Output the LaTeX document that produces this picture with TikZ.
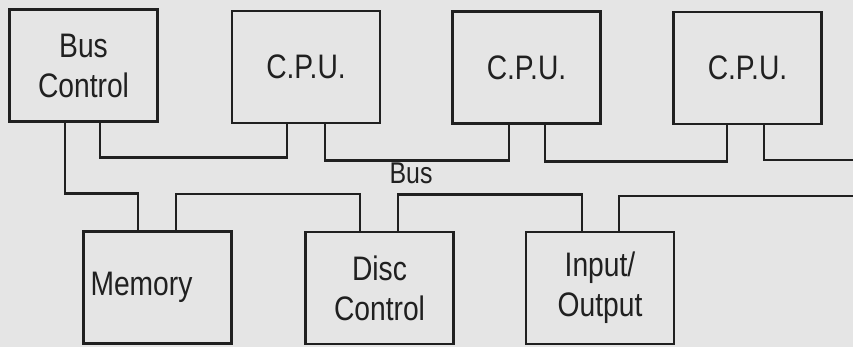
\documentclass[tikz,border=0pt]{standalone}
\usepackage{fontspec}
\setmainfont{Liberation Sans}[FakeStretch=0.83]
\begin{document}
\begin{tikzpicture}[x=1pt, y=-1pt]
% Shared bus block diagram
\definecolor{paperGray}{RGB}{229,229,229}
\definecolor{inkGray}{RGB}{32,32,32}
\providecommand{\busLineWidth}{2.6pt}
\tikzset{
  unitbox/.style={draw=inkGray, line width=\busLineWidth, minimum width=148pt, minimum height=112pt,
    inner sep=0pt, align=center, text=inkGray, font=\fontsize{34}{40}\selectfont},
  busline/.style={draw=inkGray, line width=\busLineWidth, line join=miter}
}
% Background and page size
\fill[paperGray] (0,0) rectangle (853,347);
\useasboundingbox (0,0) rectangle (853,347);
% Upper row: bus control and processors
\node[unitbox] (busctl) at (83.5,65.5) {Bus\\Control};
\node[unitbox] (cpuA) at (306,67) {C.P.U.};
\node[unitbox] (cpuB) at (526.5,67.5) {C.P.U.};
\node[unitbox] (cpuC) at (747.5,68) {C.P.U.};
% Lower row: memory and devices
\node[unitbox, text width=134pt, align=left] (mem) at (157.5,287.5) {\raisebox{-5pt}{Memory}};
\node[unitbox] (disc) at (379.5,288) {Disc\\Control};
\node[unitbox] (io) at (600,288) {Input/\\Output};
% Free ends at the right margin
\coordinate (busUpR) at (853,160);
\coordinate (busLowR) at (853,196);
% Upper bus
\draw[busline] ([xshift=16.5pt]busctl.south) -- ++(0,35) -| ([xshift=-19pt]cpuA.south);
\draw[busline] ([xshift=19pt]cpuA.south) -- ++(0,36) -| ([xshift=-17.5pt]cpuB.south);
\draw[busline] ([xshift=18.5pt]cpuB.south) -- ++(0,36.5) -| ([xshift=-20.5pt]cpuC.south);
\draw[busline] ([xshift=16.5pt]cpuC.south) |- (busUpR);
% Lower bus
\draw[busline] ([xshift=-18.5pt]busctl.south) -- ++(0,71) -| ([xshift=-19.5pt]mem.north);
\draw[busline] ([xshift=18.5pt]mem.north) -- ++(0,-36) -| ([xshift=-19.5pt]disc.north);
\draw[busline] ([xshift=18.5pt]disc.north) -- ++(0,-36) -| ([xshift=-18pt]io.north);
\draw[busline] ([xshift=19pt]io.north) |- (busLowR);
% Bus label
\node[text=inkGray, font=\fontsize{30}{34}\selectfont] (buslbl) at (411,173) {Bus};
\end{tikzpicture}
\end{document}
